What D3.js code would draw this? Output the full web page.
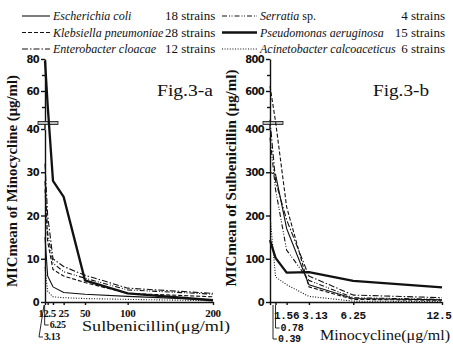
<!DOCTYPE html>
<html>
<head>
<meta charset="utf-8">
<script src="https://cdn.jsdelivr.net/npm/d3@7/dist/d3.min.js"></script>
<style>
  body { margin: 0; background: #fff; }
  svg text { fill: #111; }
  .tick text { font-family: "DejaVu Sans Condensed", "DejaVu Sans", sans-serif; font-weight: bold; font-size: 11px; letter-spacing: -0.6px; }
  .domain, .tick line { stroke: #111; stroke-width: 1.4; }
</style>
</head>
<body>
<div id="chart"></div>
<script>
// legend
const species = ['Escherichia coli', 'Klebsiella pneumoniae', 'Enterobacter cloacae',
  'Serratia sp.', 'Pseudomonas aeruginosa', 'Acinetobacter calcoaceticus'];
const strains = [18, 28, 12, 4, 15, 6];

// Fig.3-a : MIC mean of minocycline against sulbenicillin concentration
const sulbeConc = [3.13, 6.25, 12.5, 25, 50, 100, 200];
const minoEcoli = [15, 6, 3.5, 2.2, 1.8, 1.3, 0.5];
const minoKleb = [26, 14, 7.5, 6, 4.5, 2, 1.2];
const minoEntero = [32, 20, 10, 8.2, 6.2, 3.2, 2];
const minoSerr = [28, 16, 9, 7, 5.5, 2.8, 1.8];
const minoPseudo = [79, 51, 28, 24.3, 5, 2, 0.4];
const minoAcin = [8, 2.5, 1.2, 1, 0.8, 0.6, 0.3];

// Fig.3-b : MIC mean of sulbenicillin against minocycline concentration
const minoConc = [0.39, 0.78, 1.56, 3.13, 6.25, 12.5];
const sulbeEcoli = [300, 295, 170, 40, 8, 5];
const sulbeKleb = [630, 410, 220, 35, 6, 4];
const sulbeEntero = [420, 280, 190, 60, 16, 10];
const sulbeSerr = [380, 260, 120, 50, 10, 6];
const sulbePseudo = [143, 102, 68, 69, 49, 34];
const sulbeAcin = [200, 58, 40, 13, 2, 1];

const leftTicksX = [12.5, 25, 50, 100, 200];
const rightTicksX = [1.56, 3.13, 6.25, 12.5];

const dashes = ['', '4,2', '6,2,1.5,2', '5,2,1,1.5,1,2', '', '1,1.6'];
const widths = [1.1, 1.1, 1.1, 1.1, 2.3, 1.1];

const svg = d3.select('#chart').append('svg')
  .attr('width', 453).attr('height', 346);

const bottom = 302;

// y scale with a break: lower part 0..lowMax, upper part lowMax..top
function brokenScale(lowMax, top) {
  const lo = d3.scaleLinear().domain([0, lowMax]).range([bottom, 129]);
  const hi = d3.scaleLinear().domain([lowMax, top]).range([123, 59]);
  const f = v => (v <= lowMax ? lo(v) : hi(v));
  f.lo = lo;
  f.hi = hi;
  return f;
}

function drawPanel(opts) {
  const g = svg.append('g');
  const x = d3.scaleLinear().domain(opts.xDomain).range(opts.xRange);
  const y = brokenScale(opts.lowMax, opts.top);
  const x0 = opts.xRange[0];

  // lower y axis
  g.append('g')
    .attr('transform', `translate(${x0},0)`)
    .call(d3.axisLeft(y.lo).tickValues(d3.range(0, opts.lowMax + 1, opts.lowMax / 4))
      .tickSize(4).tickSizeOuter(0).tickPadding(2));
  // upper y axis
  g.append('g')
    .attr('transform', `translate(${x0},0)`)
    .call(d3.axisLeft(y.hi).tickValues([opts.lowMax * 1.5, opts.top])
      .tickSize(4).tickSizeOuter(0).tickPadding(2));
  // minor ticks
  g.append('g')
    .attr('transform', `translate(${x0},0)`)
    .call(d3.axisLeft(y.hi).tickValues([opts.lowMax * 1.25, opts.lowMax * 1.75])
      .tickSize(3).tickSizeOuter(0).tickFormat(''))
    .select('.domain').remove();
  g.append('line').attr('x1', x0).attr('x2', x0).attr('y1', 123).attr('y2', 129)
    .attr('stroke', '#111').attr('stroke-width', 1.4);

  // break mark
  g.append('rect').attr('x', x0 - 7).attr('y', 121.5).attr('width', 20).attr('height', 3)
    .attr('fill', '#bbb').attr('stroke', '#111').attr('stroke-width', 0.8);

  // x axis
  const xa = g.append('g')
    .attr('transform', `translate(0,${bottom})`)
    .call(d3.axisBottom(x).tickValues(opts.xValues).tickSize(3).tickSizeOuter(0).tickFormat(''));
  xa.select('.domain').attr('stroke-width', 2);

  // x tick labels on the main row
  g.selectAll('.xl').data(opts.xLabels).join('text')
    .attr('class', 'xl')
    .attr('x', (d, i) => x(d) + opts.xLabelDx[i])
    .attr('y', opts.labelY)
    .attr('text-anchor', 'middle')
    .style('font-family', opts.tickFont)
    .style('font-weight', 'bold')
    .style('font-size', '11px')
    .style('letter-spacing', opts.tickSpacing)
    .text(d => d);

  // bracketed small labels for the crowded first values
  opts.subLabels.forEach(s => {
    const px = x(s.v) + s.shift;
    g.append('path')
      .attr('d', `M${px},${bottom + 3}L${px - s.lean},${s.y - 3}L${px - s.lean + 4},${s.y - 3}`)
      .attr('fill', 'none').attr('stroke', '#111').attr('stroke-width', 0.9);
    g.append('text')
      .attr('x', px - s.lean + 5).attr('y', s.y)
      .style('font-family', opts.tickFont)
      .style('font-weight', 'bold')
      .style('font-size', '10px')
      .style('letter-spacing', opts.tickSpacing)
      .text(s.v.toFixed(2));
  });

  // series
  const line = d3.line().x(d => x(d[0])).y(d => y(d[1]));
  opts.series.forEach((vals, i) => {
    g.append('path')
      .datum(opts.xValues.map((c, j) => [c, vals[j]]))
      .attr('d', line)
      .attr('fill', 'none')
      .attr('stroke', '#111')
      .attr('stroke-width', widths[i])
      .attr('stroke-dasharray', dashes[i] || null)
      .attr('stroke-linejoin', 'round');
  });

  // titles
  g.append('text')
    .attr('transform', `translate(${opts.yTitle.x},${opts.yTitle.y}) rotate(-90)`)
    .attr('text-anchor', 'middle')
    .attr('dominant-baseline', 'middle')
    .attr('textLength', opts.yTitle.len)
    .attr('lengthAdjust', 'spacingAndGlyphs')
    .style('font-family', '"Liberation Serif", serif')
    .style('font-weight', 'bold')
    .style('font-size', '15px')
    .text(opts.yTitle.text);

  g.append('text')
    .attr('x', opts.xTitle.x).attr('y', opts.xTitle.y)
    .attr('textLength', opts.xTitle.len)
    .attr('lengthAdjust', 'spacingAndGlyphs')
    .style('font-family', '"Liberation Serif", serif')
    .style('font-size', '15px')
    .text(opts.xTitle.text);

  g.append('text')
    .attr('x', opts.fig.x).attr('y', 96)
    .attr('textLength', 56)
    .attr('lengthAdjust', 'spacingAndGlyphs')
    .style('font-family', '"Liberation Serif", serif')
    .style('font-size', '17px')
    .text(opts.fig.text);
}

drawPanel({
  xDomain: [3.13, 200], xRange: [45, 213],
  lowMax: 40, top: 80,
  xValues: sulbeConc,
  xLabels: leftTicksX, xLabelDx: [-6, 0, 0, 0, 0],
  labelY: 317,
  tickFont: '"Liberation Serif", serif',
  tickSpacing: '-0.4px',
  subLabels: [{ v: 6.25, shift: -3, lean: 0, y: 328 }, { v: 3.13, shift: -1, lean: 5, y: 340 }],
  series: [minoEcoli, minoKleb, minoEntero, minoSerr, minoPseudo, minoAcin],
  yTitle: { x: 14, y: 181, len: 212, text: 'MICmean of Minocycline (\u03bcg/ml)' },
  xTitle: { x: 82, y: 331, len: 148, text: 'Sulbenicillin(\u03bcg/ml)' },
  fig: { x: 157, text: 'Fig.3-a' }
});

drawPanel({
  xDomain: [0.39, 12.5], xRange: [270, 442],
  lowMax: 400, top: 800,
  xValues: minoConc,
  xLabels: rightTicksX, xLabelDx: [0, 6, 0, -3],
  labelY: 319,
  tickFont: '"Liberation Mono", monospace',
  tickSpacing: '-0.3px',
  subLabels: [{ v: 0.78, shift: 0, lean: 0, y: 331 }, { v: 0.39, shift: 3, lean: 0, y: 342 }],
  series: [sulbeEcoli, sulbeKleb, sulbeEntero, sulbeSerr, sulbePseudo, sulbeAcin],
  yTitle: { x: 233, y: 178, len: 217, text: 'MICmean of Sulbenicillin (\u03bcg/ml)' },
  xTitle: { x: 320, y: 340, len: 130, text: 'Minocycline(\u03bcg/ml)' },
  fig: { x: 373, text: 'Fig.3-b' }
});

// legend
species.forEach((name, i) => {
  const col = i < 3 ? 0 : 1;
  const row = i % 3;
  const yy = 16 + row * 16.5;
  const lx = col === 0 ? 22 : 222;
  const lw = col === 0 ? 28 : 35;
  svg.append('line')
    .attr('x1', lx).attr('x2', lx + lw).attr('y1', yy).attr('y2', yy)
    .attr('stroke', '#111')
    .attr('stroke-width', widths[i])
    .attr('stroke-dasharray', dashes[i] || null);
  const t = svg.append('text')
    .attr('x', lx + lw + 3).attr('y', yy + 4)
    .style('font-family', '"Liberation Serif", serif')
    .style('font-size', '12px');
  if (name.endsWith(' sp.')) {
    t.append('tspan').style('font-style', 'italic').text(name.slice(0, -4));
    t.append('tspan').text(' sp.');
  } else {
    t.style('font-style', 'italic').text(name);
  }
  svg.append('text')
    .attr('x', col === 0 ? 165 : 445).attr('y', yy + 4)
    .attr('text-anchor', col === 0 ? 'start' : 'end')
    .style('font-family', '"Liberation Serif", serif')
    .style('font-size', '13px')
    .text(`${strains[i]} strains`);
});
</script>
</body>
</html>
